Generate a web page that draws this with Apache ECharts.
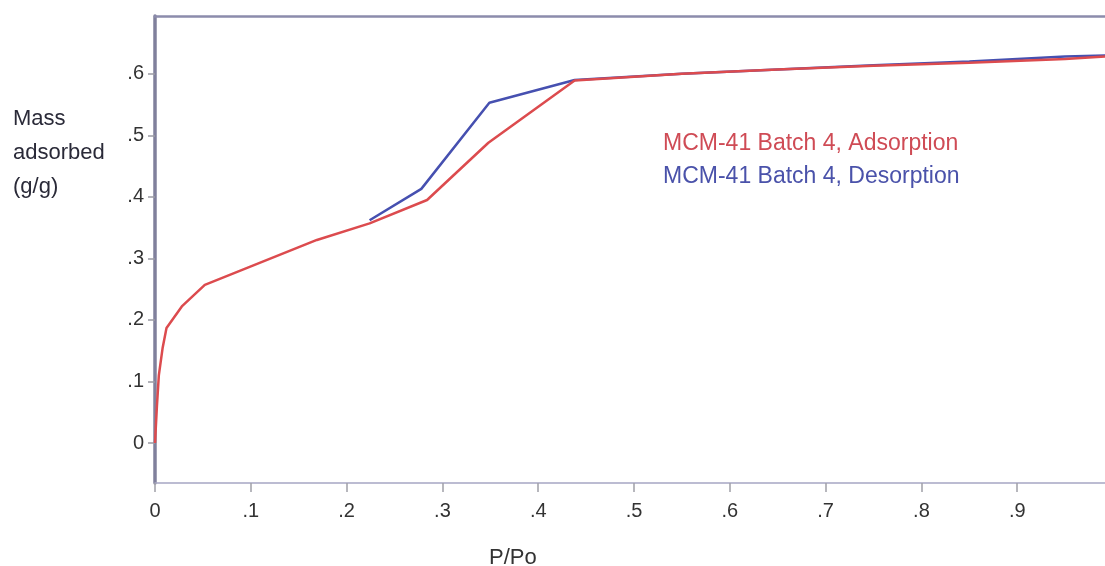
<!DOCTYPE html>
<html>
<head>
<meta charset="utf-8">
<script src="https://cdn.jsdelivr.net/npm/echarts@6/dist/echarts.min.js"></script>
<style>
html,body{margin:0;padding:0;background:#fff;}
#chart{width:1105px;height:566px;}
</style>
</head>
<body>
<div id="chart"></div>
<script>
// Data
const xTicks = [0, 0.1, 0.2, 0.3, 0.4, 0.5, 0.6, 0.7, 0.8, 0.9];
const yTicks = [0, 0.1, 0.2, 0.3, 0.4, 0.5, 0.6];

const adsorptionX = [0, 0.002, 0.004, 0.008, 0.012, 0.028, 0.052, 0.169, 0.224, 0.284, 0.348, 0.438, 0.55, 0.65, 0.75, 0.85, 0.95, 1.0];
const adsorptionY = [0, 0.06, 0.11, 0.155, 0.187, 0.222, 0.257, 0.330, 0.357, 0.395, 0.488, 0.589, 0.600, 0.607, 0.613, 0.618, 0.624, 0.629];

const desorptionX = [0.224, 0.278, 0.349, 0.438, 0.55, 0.65, 0.75, 0.85, 0.95, 1.0];
const desorptionY = [0.362, 0.413, 0.553, 0.590, 0.600, 0.607, 0.614, 0.620, 0.628, 0.630];

const seriesNames = ['MCM-41 Batch 4, Adsorption', 'MCM-41 Batch 4, Desorption'];
const yTitle = 'Mass\nadsorbed\n(g/g)';
const xTitle = 'P/Po';

const RED = '#dc4b4e';
const BLUE = '#4650b0';
const FONT = 'Liberation Sans, Arial, sans-serif';

function zip(xs, ys) { return xs.map((x, i) => [x, ys[i]]); }
function fmt(v) {
  if (Math.abs(v) < 1e-9) return '0';
  return (Math.round(v * 10) / 10).toFixed(1).replace(/^0\./, '.');
}

const chart = echarts.init(document.getElementById('chart'), null, {renderer: 'canvas'});
chart.setOption({
  backgroundColor: '#ffffff',
  animation: false,
  grid: {left: 155, top: 16, right: 0, height: 467, containLabel: false},
  legend: {
    orient: 'vertical',
    left: 658,
    top: 132,
    itemWidth: 0,
    itemHeight: 0,
    itemGap: 10,
    icon: 'none',
    padding: 0,
    data: [
      {name: seriesNames[0], textStyle: {color: '#cf4b55'}},
      {name: seriesNames[1], textStyle: {color: '#4a52aa'}}
    ],
    textStyle: {fontFamily: FONT, fontSize: 23},
    selectedMode: false
  },
  xAxis: [{
    type: 'value',
    min: 0, max: 0.9916,
    position: 'bottom',
    axisLine: {show: true, onZero: false, lineStyle: {color: '#a6a6c4', width: 1.5}},
    axisTick: {show: true, length: 9, customValues: xTicks, lineStyle: {color: '#a0a0a8', width: 1.5}},
    axisLabel: {customValues: xTicks, formatter: fmt, margin: 18, color: '#333', fontFamily: FONT, fontSize: 20},
    splitLine: {show: false}
  }, {
    type: 'value',
    min: 0, max: 0.9916,
    position: 'top',
    axisLine: {show: true, onZero: false, lineStyle: {color: '#8c8cac', width: 2.5}},
    axisTick: {show: false},
    axisLabel: {show: false},
    splitLine: {show: false}
  }],
  yAxis: {
    type: 'value',
    min: -0.065, max: 0.694,
    axisLine: {show: true, onZero: false, lineStyle: {color: '#80809c', width: 3.5}},
    axisTick: {show: true, length: 7, customValues: yTicks, lineStyle: {color: '#9a9aa4', width: 1.5}},
    axisLabel: {customValues: yTicks, formatter: fmt, margin: 11, color: '#333', fontFamily: FONT, fontSize: 20, padding: [3, 0, 0, 0]},
    splitLine: {show: false}
  },
  graphic: [
    {type: 'text', left: 13, top: 102, style: {text: yTitle, fill: '#2a2a38', font: '22px Liberation Sans, Arial, sans-serif', lineHeight: 34}},
    {type: 'text', left: 489, top: 547, style: {text: xTitle, fill: '#333', font: '22px Liberation Sans, Arial, sans-serif'}}
  ],
  series: [
    {
      name: seriesNames[1], type: 'line', data: zip(desorptionX, desorptionY),
      showSymbol: false, lineStyle: {color: BLUE, width: 2.5}, itemStyle: {color: BLUE}, z: 2
    },
    {
      name: seriesNames[0], type: 'line', data: zip(adsorptionX, adsorptionY),
      showSymbol: false, lineStyle: {color: RED, width: 2.5}, itemStyle: {color: RED}, z: 3
    }
  ]
});
</script>
</body>
</html>
